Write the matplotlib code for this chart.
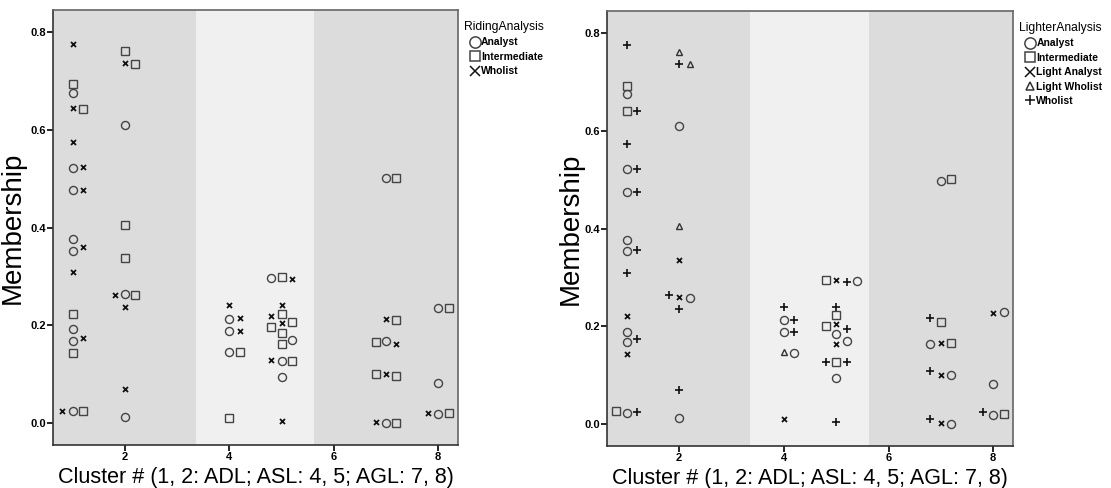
import matplotlib
matplotlib.use('Agg')
import matplotlib.pyplot as plt
from matplotlib.lines import Line2D

plt.rcParams['font.family'] = ['Liberation Sans', 'DejaVu Sans']

# (cluster, jitter slot, membership)
riding_analyst = [(1, 0, 0.676), (1, 0, 0.523), (1, 0, 0.476), (1, 0, 0.376), (1, 0, 0.352),
                  (1, 0, 0.1915), (1, 0, 0.168), (1, 0, 0.024),
                  (2, 0, 0.611), (2, 0, 0.264), (2, 0, 0.0117),
                  (4, 0, 0.212), (4, 0, 0.1875), (4, 0, 0.1446),
                  (5, -1, 0.297), (5, 1, 0.169), (5, 0, 0.127), (5, 0, 0.0947),
                  (7, 0, 0.502), (7, 0, 0.167), (7, 0, 0.0),
                  (8, 0, 0.2345), (8, 0, 0.081), (8, 0, 0.0178)]
riding_intermediate = [(1, 0, 0.693), (1, 1, 0.642), (1, 0, 0.2235), (1, 0, 0.1425), (1, 1, 0.024),
                       (2, 0, 0.761), (2, 1, 0.735), (2, 0, 0.405), (2, 0, 0.337), (2, 1, 0.262),
                       (4, 1, 0.146), (4, 0, 0.011),
                       (5, 0, 0.298), (5, 0, 0.224), (5, -1, 0.197), (5, 1, 0.207), (5, 0, 0.184),
                       (5, 0, 0.162), (5, 1, 0.127),
                       (7, 1, 0.502), (7, 1, 0.2107), (7, -1, 0.166), (7, -1, 0.0996), (7, 1, 0.097),
                       (7, 1, 0.0),
                       (8, 1, 0.2345), (8, 1, 0.0198)]
riding_wholist = [(1, 0, 0.775), (1, 0, 0.644), (1, 0, 0.575), (1, 1, 0.524), (1, 1, 0.476),
                  (1, 1, 0.36), (1, 0, 0.309), (1, 1, 0.175), (1, -1, 0.024),
                  (2, 0, 0.7375), (2, -1, 0.262), (2, 0, 0.237), (2, 0, 0.0695),
                  (4, 0, 0.241), (4, 1, 0.214), (4, 1, 0.1875),
                  (5, 1, 0.295), (5, 0, 0.241), (5, -1, 0.220), (5, 0, 0.2045), (5, -1, 0.130),
                  (5, 0, 0.0035),
                  (7, 0, 0.212), (7, 1, 0.1616), (7, 0, 0.0996), (7, -1, 0.0014),
                  (8, -1, 0.0198)]

lighter_analyst = [(1, 0, 0.676), (1, 0, 0.523), (1, 0, 0.474), (1, 0, 0.376), (1, 0, 0.355),
                   (1, 0, 0.189), (1, 0, 0.167), (1, 0, 0.0225),
                   (2, 0, 0.6106), (2, 1, 0.257), (2, 0, 0.0117),
                   (4, 0, 0.212), (4, 0, 0.1876), (4, 1, 0.1446),
                   (5, 2, 0.2926), (5, 0, 0.1848), (5, 1, 0.1705), (5, 0, 0.0935),
                   (7, 0, 0.497), (7, -1, 0.163), (7, 1, 0.1003), (7, 1, 0.0),
                   (8, 1, 0.2298), (8, 0, 0.0812), (8, 0, 0.0184)]
lighter_intermediate = [(1, 0, 0.6915), (1, 0, 0.640), (1, -1, 0.026),
                        (5, -1, 0.294), (5, 0, 0.2224), (5, -1, 0.1999), (5, 0, 0.127),
                        (7, 1, 0.5006), (7, 0, 0.2094), (7, 1, 0.165),
                        (8, 1, 0.0198)]
lighter_light_analyst = [(1, 0, 0.221), (1, 0, 0.143),
                         (2, 0, 0.335), (2, 0, 0.26),
                         (4, 0, 0.0109),
                         (5, 0, 0.295), (5, 0, 0.204), (5, 0, 0.163),
                         (7, 0, 0.165), (7, 0, 0.1003), (7, 0, 0.0014),
                         (8, 0, 0.2277)]
lighter_light_wholist = [(2, 0, 0.7625), (2, 1, 0.737), (2, 0, 0.4045),
                         (4, 0, 0.1467)]
lighter_wholist = [(1, 0, 0.7755), (1, 1, 0.640), (1, 0, 0.574), (1, 1, 0.523), (1, 1, 0.474),
                   (1, 1, 0.356), (1, 0, 0.309), (1, 1, 0.175), (1, 1, 0.025),
                   (2, 0, 0.7378), (2, -1, 0.2634), (2, 0, 0.2347), (2, 0, 0.0703),
                   (4, 0, 0.2387), (4, 1, 0.212), (4, 1, 0.1876),
                   (5, 1, 0.291), (5, 0, 0.2387), (5, 1, 0.195), (5, -1, 0.1268), (5, 1, 0.127),
                   (5, 0, 0.0035),
                   (7, -1, 0.2175), (7, -1, 0.1094), (7, -1, 0.0102),
                   (8, -1, 0.024)]

band_edges = [0.6, 3.36, 5.63, 8.4]
x_ticks = [2, 4, 6, 8]
y_ticks = [0.0, 0.2, 0.4, 0.6, 0.8]
x_label = 'Cluster # (1, 2: ADL; ASL: 4, 5; AGL: 7, 8)'

JIT = 0.2
styles = {
    'Analyst': dict(marker='o', ms=5.8, mfc='none', mec='#444444', mew=1.0),
    'Intermediate': dict(marker='s', ms=5.6, mfc='none', mec='#444444', mew=1.0),
    'Wholist_x': dict(marker='x', ms=3.6, mec='#111111', mew=1.3),
    'Light Analyst': dict(marker='x', ms=3.6, mec='#111111', mew=1.3),
    'Light Wholist': dict(marker='^', ms=4.2, mfc='none', mec='#333333', mew=1.0),
    'Wholist_plus': dict(marker='+', ms=5.4, mec='#111111', mew=1.2),
}


def draw(ax, groups, title, ylabel_x):
    dark = '#dcdcdc'
    light = '#f0f0f0'
    ax.axvspan(band_edges[0], band_edges[1], color=dark, zorder=0, lw=0)
    ax.axvspan(band_edges[1], band_edges[2], color=light, zorder=0, lw=0)
    ax.axvspan(band_edges[2], band_edges[3], color=dark, zorder=0, lw=0)
    handles = []
    for name, data, st in groups:
        xs = [c + s * JIT for c, s, v in data]
        ys = [v for c, s, v in data]
        ax.plot(xs, ys, ls='none', zorder=3, **st)
        hs = dict(st)
        hs['ms'] = st['ms'] * 1.4
        hs['mew'] = 1.1
        if st['marker'] in ('x', '+'):
            hs['ms'] = 6.5
        handles.append(Line2D([], [], ls='none', label=name, **hs))
    ax.set_xlim(0.62, 8.38)
    ax.set_ylim(-0.045, 0.845)
    ax.set_xticks(x_ticks)
    ax.set_yticks(y_ticks)
    ax.set_yticklabels(['%.1f' % t for t in y_ticks])
    ax.tick_params(direction='out', length=4, width=1.2, labelsize=8, pad=1)
    for lab in ax.get_xticklabels() + ax.get_yticklabels():
        lab.set_fontweight('bold')
    for sp in ax.spines.values():
        sp.set_color('#666666')
        sp.set_linewidth(1.2)
    ax.spines['left'].set_color('#333333')
    ax.spines['bottom'].set_color('#333333')
    ax.set_xlabel(x_label, fontsize=15.5)
    ax.set_ylabel('Membership', fontsize=20)
    ax.xaxis.set_label_coords(0.5, -0.05)
    ax.yaxis.set_label_coords(ylabel_x, 0.5)
    leg = ax.legend(handles=handles, title=title, loc='upper left',
                    bbox_to_anchor=(1.015, 0.975), frameon=False, borderaxespad=0,
                    borderpad=0, handlelength=2.1, handletextpad=-0.45,
                    labelspacing=0.42, fontsize=7.5, title_fontsize=8.7,
                    alignment='left')
    for t in leg.get_texts():
        t.set_fontweight('bold')


fig = plt.figure(figsize=(11.11, 4.88), dpi=100)
ax1 = fig.add_axes([0.0477, 0.0881, 0.3645, 0.891])
ax2 = fig.add_axes([0.5464, 0.086, 0.3654, 0.891])

draw(ax1, [('Analyst', riding_analyst, styles['Analyst']),
           ('Intermediate', riding_intermediate, styles['Intermediate']),
           ('Wholist', riding_wholist, styles['Wholist_x'])],
     'RidingAnalysis', -0.068)
draw(ax2, [('Analyst', lighter_analyst, styles['Analyst']),
           ('Intermediate', lighter_intermediate, styles['Intermediate']),
           ('Light Analyst', lighter_light_analyst, styles['Light Analyst']),
           ('Light Wholist', lighter_light_wholist, styles['Light Wholist']),
           ('Wholist', lighter_wholist, styles['Wholist_plus'])],
     'LighterAnalysis', -0.058)

fig.savefig('out.png', dpi=100)
